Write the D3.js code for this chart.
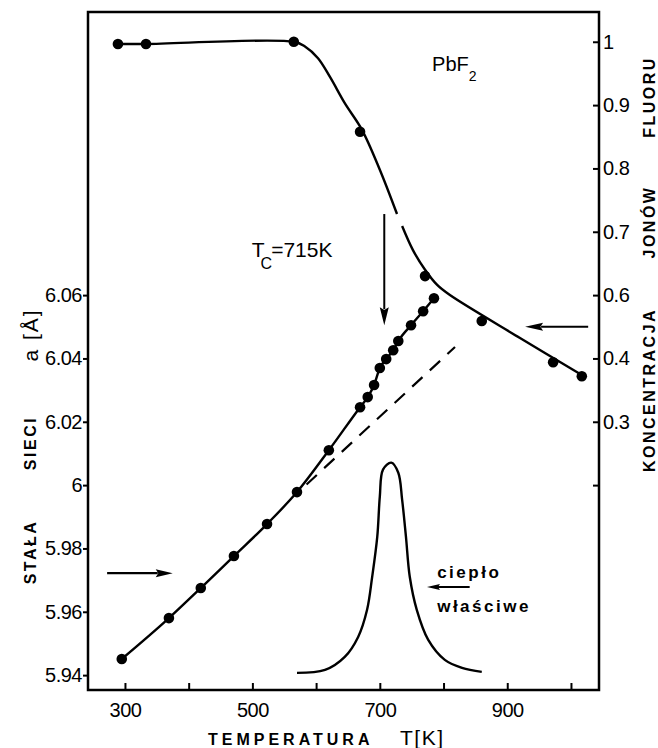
<!DOCTYPE html>
<html><head><meta charset="utf-8">
<script src="https://cdn.jsdelivr.net/npm/d3@7"></script>
<style>
body{margin:0;background:#fff;}
svg{display:block;}
</style></head>
<body>
<script>
// ---- data ----
const xTicks = [300, 400, 500, 600, 700, 800, 900, 1000];
const xTickLabels = ["300", "", "500", "", "700", "", "900", ""];
const leftTicks = [5.94, 5.96, 5.98, 6.00, 6.02, 6.04, 6.06];
const leftTickLabels = ["5.94", "5.96", "5.98", "6", "6.02", "6.04", "6.06"];
const rightTicks = [0.2, 0.3, 0.4, 0.6, 0.7, 0.8, 0.9, 1.0];
const rightTickLabels = ["", "0.3", "0.4", "0.6", "0.7", "0.8", "0.9", "1"];

// lattice constant a [Å] (left axis)
const latT = [295, 369, 419, 471, 523, 570, 620, 669, 681, 691, 700, 710, 721, 729, 749, 768, 785];
const latA = [5.9451, 5.9580, 5.9675, 5.9776, 5.9877, 5.9978, 6.0110, 6.0246, 6.0278, 6.0316, 6.0370, 6.0398, 6.0426, 6.0455, 6.0505, 6.0549, 6.0590];
// extrapolated low-temperature line (dashed)
const dashT = [585, 818];
const dashA = [6.0002, 6.0436];

// fluorine ion concentration (right axis)
const concT = [289, 333, 565, 669, 771, 860, 972, 1017];
const concV = [0.9965, 0.9965, 1.0, 0.858, 0.630, 0.518, 0.394, 0.372];
// fitted concentration curve (two pieces, small break near Tc)
const concCurve1T = [289, 333, 565, 582, 603, 622, 645, 672, 700, 727];
const concCurve1V = [0.9965, 0.9965, 1.0, 0.993, 0.974, 0.944, 0.903, 0.861, 0.798, 0.728];
const concCurve2T = [735, 752, 771, 790, 810, 920, 1017];
const concCurve2V = [0.709, 0.671, 0.640, 0.616, 0.600, 0.4645, 0.374];

// specific heat (relative units, no axis)
const heatT = [570, 614, 645, 666, 680, 688, 696, 700, 705, 718, 729, 735, 741, 747, 758, 776, 802, 829, 860];
const heatC = [0, 0.014, 0.076, 0.171, 0.300, 0.457, 0.648, 0.838, 0.967, 1.0, 0.952, 0.824, 0.648, 0.457, 0.300, 0.157, 0.062, 0.024, 0.005];

// ---- layout ----
const W = 658, H = 748;
const M = {left: 88, right: 599, top: 12, bottom: 690};
const FONT = "'Liberation Sans Narrow','Liberation Sans',Arial,sans-serif";
const BFONT = "'Liberation Sans',Arial,sans-serif";

const svg = d3.select("body").append("svg").attr("width", W).attr("height", H);

const x = d3.scaleLinear().domain([242, 1044]).range([M.left, M.right]);
const yL = d3.scaleLinear().domain([5.9353, 6.1494]).range([M.bottom, M.top]);
// right axis: broken scale, ticks aligned to left-axis grid
const yR = d3.scaleLinear().domain(rightTicks).range(rightTicks.map((d, i) => yL(6.00 + 0.02 * i)));
const yH = d3.scaleLinear().domain([0, 1]).range([yL(5.9407), yL(6.0071)]);

// frame
svg.append("rect").attr("x", M.left).attr("y", M.top)
  .attr("width", M.right - M.left).attr("height", M.bottom - M.top)
  .attr("fill", "none").attr("stroke", "#000").attr("stroke-width", 2.5);

// axes
const gx = svg.append("g").attr("transform", `translate(0,${M.bottom})`)
  .call(d3.axisBottom(x).tickValues(xTicks).tickSize(-7).tickPadding(13)
    .tickFormat((d, i) => xTickLabels[i]));
const gl = svg.append("g").attr("transform", `translate(${M.left},0)`)
  .call(d3.axisLeft(yL).tickValues(leftTicks).tickSize(5).tickPadding(1)
    .tickFormat((d, i) => leftTickLabels[i]));
const gr = svg.append("g").attr("transform", `translate(${M.right},0)`)
  .call(d3.axisRight(yR).tickValues(rightTicks).tickSize(-6).tickPadding(4)
    .tickFormat((d, i) => rightTickLabels[i]));
[gx, gl, gr].forEach(g => {
  g.select(".domain").remove();
  g.selectAll(".tick line").attr("stroke", "#000").attr("stroke-width", 2);
  g.selectAll(".tick text").attr("fill", "#000").style("font-family", FONT)
    .style("font-size", "20px").attr("letter-spacing", "-0.5px");
});

// lines
const lineL = d3.line().x(d => x(d[0])).y(d => yL(d[1])).curve(d3.curveMonotoneX);
const lineR = d3.line().x(d => x(d[0])).y(d => yR(d[1])).curve(d3.curveCatmullRom.alpha(0.5));
const lineH = d3.line().x(d => x(d[0])).y(d => yH(d[1])).curve(d3.curveCatmullRom.alpha(0.5));

const latData = latT.map((t, i) => [t, latA[i]]);
svg.append("path").attr("d", lineL(latData)).attr("fill", "none").attr("stroke", "#000").attr("stroke-width", 2.4);
svg.append("path").attr("d", d3.line().x(d => x(d[0])).y(d => yL(d[1]))(dashT.map((t, i) => [t, dashA[i]])))
  .attr("fill", "none").attr("stroke", "#000").attr("stroke-width", 2.2).attr("stroke-dasharray", "14,10");

svg.append("path").attr("d", lineR(concCurve1T.map((t, i) => [t, concCurve1V[i]])))
  .attr("fill", "none").attr("stroke", "#000").attr("stroke-width", 2.4);
svg.append("path").attr("d", lineR(concCurve2T.map((t, i) => [t, concCurve2V[i]])))
  .attr("fill", "none").attr("stroke", "#000").attr("stroke-width", 2.4);

svg.append("path").attr("d", lineH(heatT.map((t, i) => [t, heatC[i]])))
  .attr("fill", "none").attr("stroke", "#000").attr("stroke-width", 2.4);

// points
svg.append("g").selectAll("circle").data(latData).join("circle")
  .attr("cx", d => x(d[0])).attr("cy", d => yL(d[1])).attr("r", 5.3).attr("fill", "#000");
svg.append("g").selectAll("circle").data(concT.map((t, i) => [t, concV[i]])).join("circle")
  .attr("cx", d => x(d[0])).attr("cy", d => yR(d[1])).attr("r", 5.3).attr("fill", "#000");

// arrows
function arrow(x1, y1, x2, y2, hl, hw, sw) {
  const dx = x2 - x1, dy = y2 - y1, L = Math.hypot(dx, dy);
  const ux = dx / L, uy = dy / L;
  const bx = x2 - ux * hl, by = y2 - uy * hl;
  svg.append("line").attr("x1", x1).attr("y1", y1).attr("x2", bx + ux * 2).attr("y2", by + uy * 2)
    .attr("stroke", "#000").attr("stroke-width", sw);
  svg.append("path").attr("d", `M${x2},${y2}L${bx - uy * hw / 2},${by + ux * hw / 2}L${bx + ux * hl * 0.15},${by + uy * hl * 0.15}L${bx + uy * hw / 2},${by - ux * hw / 2}Z`)
    .attr("fill", "#000");
}
arrow(x(707), yL(6.0856), x(707), yL(6.0505), 18, 9, 2);
arrow(x(1027), yR(0.5), x(928), yR(0.5), 18, 8, 2.2);
arrow(x(272), yL(5.9722), x(375), yL(5.9722), 17, 8, 2.2);
arrow(x(841), yL(5.9678), x(774), yL(5.9678), 13, 6, 2);

// annotations
const pb = svg.append("text").attr("x", x(782)).attr("y", yL(6.1307))
  .style("font-family", FONT).style("font-size", "20px").attr("fill", "#000");
pb.append("tspan").text("PbF");
pb.append("tspan").attr("dy", 10).attr("dx", 0).style("font-size", "14px").text("2");

const tc = svg.append("text").attr("x", x(499)).attr("y", yL(6.072))
  .style("font-family", FONT).style("font-size", "21px").attr("fill", "#000");
tc.append("tspan").text("T");
tc.append("tspan").attr("dy", 12).attr("dx", -4).style("font-size", "16px").text("C");
tc.append("tspan").attr("dy", -12).attr("dx", -1).text("=715K");

svg.append("text").attr("x", x(790)).attr("y", yL(5.9706))
  .style("font-family", BFONT).style("font-weight", "bold").style("font-size", "17px")
  .attr("letter-spacing", "2.5px").text("ciepło");
svg.append("text").attr("x", x(790)).attr("y", yL(5.9599))
  .style("font-family", BFONT).style("font-weight", "bold").style("font-size", "17px")
  .attr("letter-spacing", "2.5px").text("właściwe");

// axis titles
svg.append("text").attr("x", 208).attr("y", 745)
  .style("font-family", BFONT).style("font-weight", "bold").style("font-size", "16px")
  .attr("letter-spacing", "4px").text("TEMPERATURA");
svg.append("text").attr("x", 400).attr("y", 745)
  .style("font-family", FONT).style("font-size", "21px").attr("letter-spacing", "1.5px").text("T[K]");

function vtext(cx, cy, txt, bold, size, ls) {
  svg.append("text").attr("transform", `translate(${cx},${cy}) rotate(-90)`)
    .attr("text-anchor", "middle").attr("dy", "0.36em")
    .style("font-family", bold ? BFONT : FONT).style("font-weight", bold ? "bold" : "normal")
    .style("font-size", size + "px").attr("letter-spacing", ls + "px").text(txt);
}
vtext(30, 552, "STAŁA", true, 16, 2.5);
vtext(30, 443, "SIECI", true, 16, 2.5);
vtext(30, 335, "a [Å]", false, 21, 2);
vtext(649, 390, "KONCENTRACJA", true, 16, 2.5);
vtext(649, 222, "JONÓW", true, 16, 2.5);
vtext(649, 97, "FLUORU", true, 16, 2.5);
</script>
</body></html>
